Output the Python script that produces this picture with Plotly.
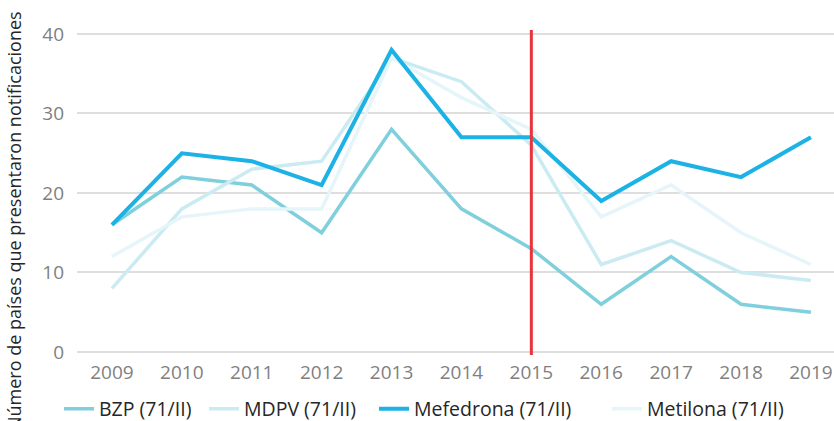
import plotly.graph_objects as go

years = [2009, 2010, 2011, 2012, 2013, 2014, 2015, 2016, 2017, 2018, 2019]
bzp = [16, 22, 21, 15, 28, 18, 13, 6, 12, 6, 5]
mdpv = [8, 18, 23, 24, 37, 34, 26, 11, 14, 10, 9]
mefedrona = [16, 25, 24, 21, 38, 27, 27, 19, 24, 22, 27]
metilona = [12, 17, 18, 18, 37, 32, 28, 17, 21, 15, 11]
names = ["BZP (71/II)", "MDPV (71/II)", "Mefedrona (71/II)", "Metilona (71/II)"]
y_title = "Número de países que presentaron notificaciones"
y_ticks = [0, 10, 20, 30, 40]

W, H = 834, 421
ML, MR, MT, MB = 77, 0, 30, 66
pw = W - ML - MR
ph = H - MT - MB

def px_x(p):
    return (p - ML) / pw

def px_y(p):
    return (H - MB - p) / ph

FONT = "Open Sans"

series = [
    (names[0], bzp, "#7fd0dc", 3.5, "legend"),
    (names[1], mdpv, "#cbebf2", 3.5, "legend2"),
    (names[3], metilona, "#e5f5f9", 3.5, "legend4"),
    (names[2], mefedrona, "#1db2e6", 4, "legend3"),
]

fig = go.Figure()
for name, vals, color, w, lg in series:
    fig.add_trace(go.Scatter(
        x=years, y=vals, name=name, mode="lines",
        line=dict(color=color, width=w),
        legend=lg,
    ))

legend_text_starts = {"legend": 100, "legend2": 245, "legend3": 415, "legend4": 648}
leg_common = dict(
    orientation="h", yanchor="middle", xanchor="left",
    font=dict(family=FONT, size=19.5, color="#262626"),
    bgcolor="rgba(0,0,0,0)", borderwidth=0,
)
layout_legends = {}
for key, start in legend_text_starts.items():
    layout_legends[key] = dict(leg_common, x=px_x(start - 41), y=px_y(409))

fig.update_layout(
    width=W, height=H,
    margin=dict(l=ML, r=MR, t=MT, b=MB, autoexpand=False),
    paper_bgcolor="white", plot_bgcolor="white",
    showlegend=True,
    **layout_legends,
    xaxis=dict(
        range=[2008.5, 2019.33],
        tickmode="array", tickvals=years, ticktext=[str(y) for y in years],
        showgrid=False, zeroline=False, showline=False, automargin=False,
        tickfont=dict(family=FONT, size=19, color="#7f7f7f"),
        ticks="", ticklabelstandoff=4,
    ),
    yaxis=dict(
        range=[-0.38, 40.5],
        tickmode="array", tickvals=y_ticks,
        showgrid=True, gridcolor="#dedede", gridwidth=1.5,
        zeroline=False, showline=False, automargin=False,
        tickfont=dict(family=FONT, size=19, color="#7f7f7f"),
        ticks="", ticklabelstandoff=12,
    ),
    shapes=[dict(
        type="line", xref="x", yref="paper",
        x0=2015, x1=2015, y0=0, y1=1,
        line=dict(color="#e8353b", width=3),
    )],
    annotations=[dict(
        text=y_title, xref="paper", yref="paper",
        x=px_x(14), y=px_y(221), xanchor="center", yanchor="middle",
        textangle=-90, showarrow=False,
        font=dict(family=FONT, size=18, color="#262626"),
    )],
)

fig.write_html("out.html", config={"displayModeBar": False},
               post_script="document.body.style.margin='0';")
